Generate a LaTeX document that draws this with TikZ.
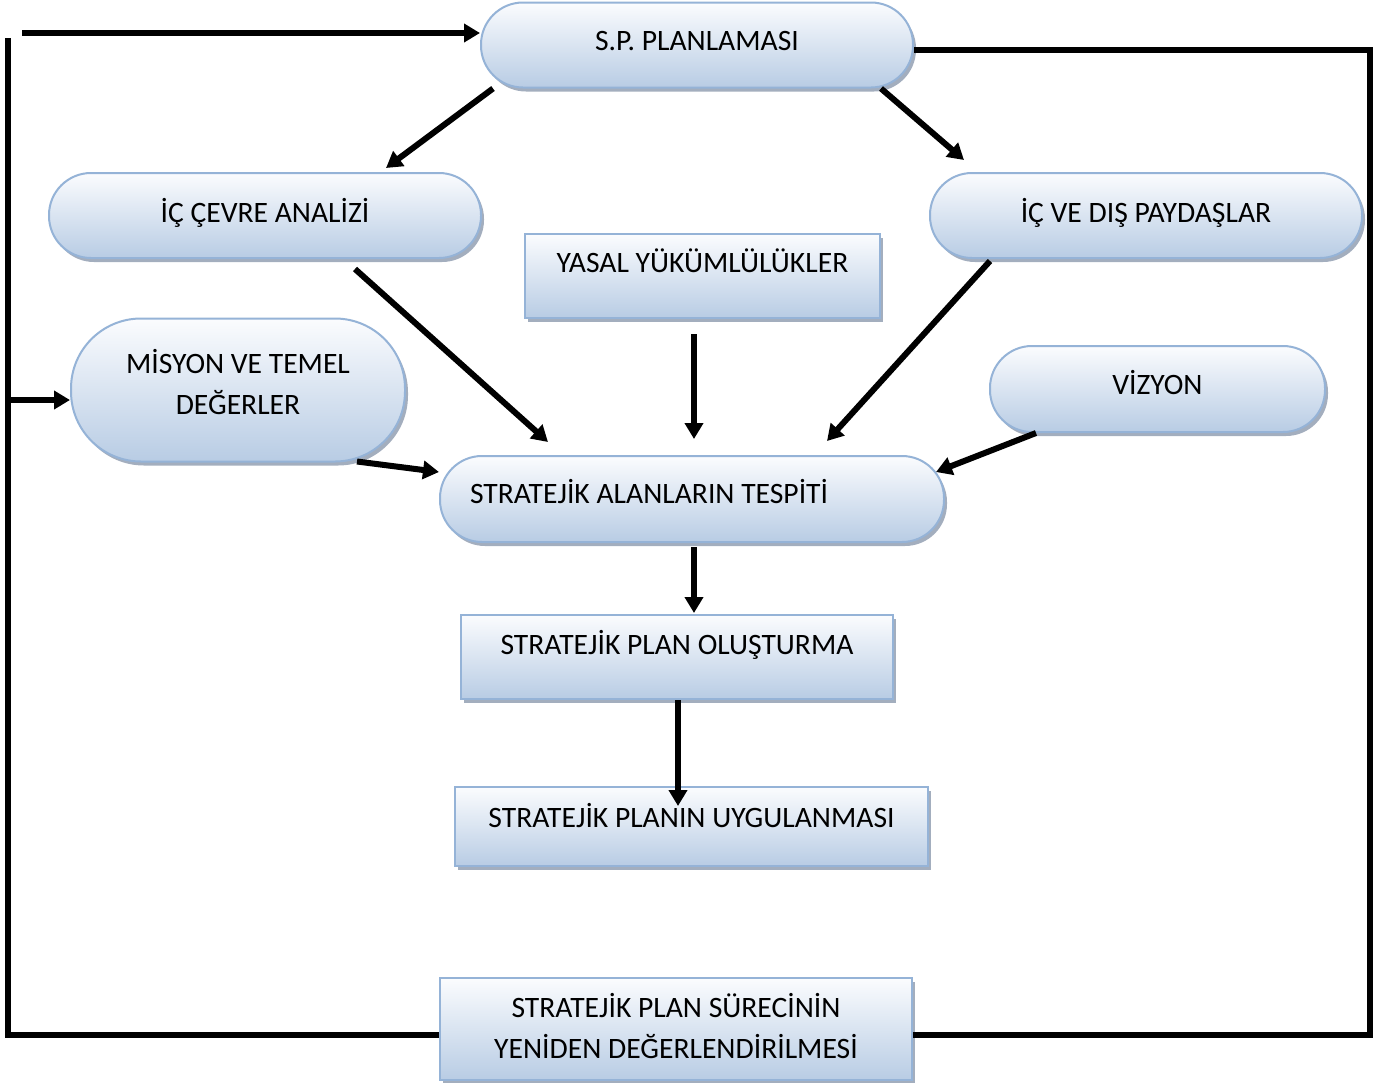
\documentclass[tikz,border=0pt]{standalone}
\usepackage{fontspec}
\setmainfont{Carlito}
\usetikzlibrary{positioning,calc,shadows,arrows.meta}

\definecolor{spedge}{HTML}{95B3D7}
\definecolor{sptop}{HTML}{FBFCFE}
\definecolor{spbottom}{HTML}{B8CCE4}
\definecolor{spshade}{HTML}{7D8CA3}

\begin{document}
\begin{tikzpicture}[x=0.5pt, y=-0.5pt,
    sp pill/.style={rectangle, rounded corners=21pt, draw=spedge, line width=1pt,
        top color=sptop, bottom color=spbottom, minimum width=216pt, minimum height=42.5pt,
        inner sep=0pt, align=center, font=\fontsize{14.8pt}{20.5pt}\selectfont,
        drop shadow={shadow xshift=1.5pt, shadow yshift=-2pt, fill=spshade, opacity=.7}},
    sp box/.style={sp pill, sharp corners},
    txt up/.style={text height=9.5pt, text depth=#1},
    sp arrow/.style={-{Triangle[length=8pt,width=9pt]}, line width=3pt},
    sp line/.style={line width=3pt, line join=miter}]

    \useasboundingbox [fill=white] (0,0) rectangle (1389,1083);

    \node [sp pill, txt up=4pt] (plan) at (697,45) {S.P. PLANLAMASI};
    \node [sp pill, txt up=3pt, below left=41.75pt and -1pt of plan] (icevre) {İÇ ÇEVRE ANALİZİ};
    \node [sp pill, txt up=3pt, below right=41.75pt and 7.5pt of plan] (paydas) {İÇ VE DIŞ PAYDAŞLAR};
    \node [sp box, txt up=13pt, minimum width=177.5pt, minimum height=42pt] (yasal) at (702.5,276) {YASAL YÜKÜMLÜLÜKLER};
    \node [sp pill, text height=30pt, text depth=5.5pt, rounded corners=35pt, minimum width=167pt, minimum height=71.5pt] (misyon) at (238,390) {MİSYON VE TEMEL\\DEĞERLER};
    \node [sp pill, txt up=4pt, minimum width=167.5pt, minimum height=43pt] (vizyon) at (1157.5,389) {VİZYON};
    \node [sp pill, txt up=5pt, minimum height=43pt, text width=222pt, inner xsep=15pt, align=flush left] (tespit) at (692,499) {STRATEJİK ALANLARIN TESPİTİ};
    \node [sp box, txt up=12pt, minimum height=42pt, below=35.5pt of tespit, xshift=-7.5pt] (olustur) {STRATEJİK PLAN OLUŞTURMA};
    \node [sp box, txt up=8.5pt, minimum width=236.5pt, minimum height=39.5pt, below=43pt of olustur, xshift=7.25pt] (uygula) {STRATEJİK PLANIN UYGULANMASI};
    \node [sp box, text height=30pt, text depth=0.5pt, minimum width=236pt, minimum height=51pt] (yeniden) at (676,1029) {STRATEJİK PLAN SÜRECİNİN\\YENİDEN DEĞERLENDİRİLMESİ};

    % feedback loop corners
    \coordinate (ne) at (1370,50);
    \coordinate (se) at (1370,1035);
    \coordinate (sw) at (8,1035);
    \coordinate (nw) at (8,38);
    \coordinate (top) at (22,33);
    \coordinate (mid) at (8,400);

    \draw [sp arrow] ($(plan.south west)+(13,0)$) -- ($(icevre.north)+(121,-4)$);
    \draw [sp arrow] ($(plan.south east)+(-33,0)$) -- ($(paydas.north)+(-182,-12)$);
    \draw [sp arrow] ($(icevre.south)+(90,10)$) -- ($(tespit.north)+(-144,-13)$);
    \draw [sp arrow] ($(yasal.south)+(-8.5,15)$) -- ($(tespit.north)+(2,-16)$);
    \draw [sp arrow] ($(paydas.south)+(-156,2)$) -- ($(tespit.north)+(135,-14)$);
    \draw [sp arrow] ($(vizyon.south)+(-121.5,0)$) -- ($(tespit.east)+(-9,-27)$);
    \draw [sp arrow] ($(misyon.south)+(119,-1)$) -- ($(tespit.west)+(0,-27)$);
    \draw [sp arrow] ($(tespit.south)+(2,4)$) -- ($(olustur.north)+(17,-1)$);
    \draw [sp arrow] ($(olustur.south)+(1,0)$) -- ($(uygula.north)+(-13.5,20)$);

    \draw [sp line] ($(plan.east)+(0,5)$) -- (ne) -- (se) -- ($(yeniden.east)+(0,6)$);
    \draw [sp line] ($(yeniden.west)+(0,6)$) -- (sw) -- (nw);
    \draw [sp arrow] (top) -- ($(plan.west)+(0,-12)$);
    \draw [sp arrow] (mid) -- ($(misyon.west)+(0,10)$);

\end{tikzpicture}
\end{document}
